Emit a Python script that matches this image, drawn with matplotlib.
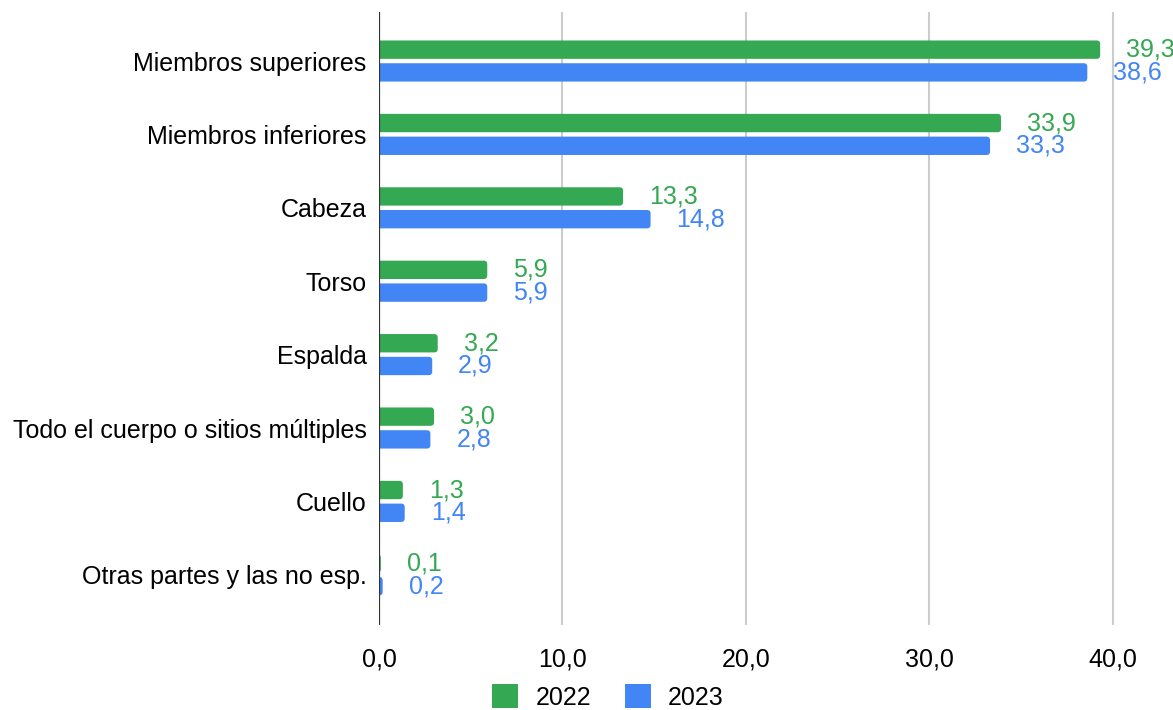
import matplotlib
matplotlib.use("Agg")
import matplotlib.pyplot as plt
from matplotlib.patches import FancyBboxPatch, Patch
import numpy as np

# Datos (%)
categorias = ["Miembros superiores", "Miembros inferiores", "Cabeza", "Torso",
              "Espalda", "Todo el cuerpo o sitios múltiples", "Cuello",
              "Otras partes y las no esp."]
valores_2022 = [39.3, 33.9, 13.3, 5.9, 3.2, 3.0, 1.3, 0.1]
valores_2023 = [38.6, 33.3, 14.8, 5.9, 2.9, 2.8, 1.4, 0.2]
xticks = [0, 10, 20, 30, 40]

VERDE = "#34A853"
AZUL = "#4285F4"
GRIS = "#CCCCCC"
EJE = "#333333"
FS = 18

plt.rcParams["font.family"] = ["Liberation Sans", "DejaVu Sans"]

fig = plt.figure(figsize=(11.73, 7.10), dpi=100)
ax = fig.add_axes([379 / 1173, 85 / 710, 794 / 1173, 613 / 710])

y = np.arange(len(categorias))
alto = 0.25
desp = 0.155

XMAX = 43.27
ax.set_xlim(0, XMAX)
ax.set_ylim(7.684, -0.668)

# escala px -> datos para redondear extremos
ux = XMAX / 794
uy = (7.684 + 0.668) / 613
radio = 3.5 * ux


def barras(valores, offset, color):
    bars = ax.barh(y + offset, valores, height=alto, color=color, zorder=3)
    for b in bars:
        b.set_visible(False)
        w = b.get_width()
        p = FancyBboxPatch((b.get_x() - 0.3, b.get_y()), w + 0.3, b.get_height(),
                           boxstyle=f"round,pad=0,rounding_size={min(radio, (w + 0.3) / 2)}",
                           mutation_aspect=uy / ux, facecolor=color,
                           edgecolor="none", zorder=3)
        ax.add_patch(p)
    for yy, v in zip(y + offset, valores):
        ax.text(v + 26 * ux, yy, f"{v:.1f}".replace(".", ","), color=color,
                fontsize=FS, va="center", ha="left", clip_on=False)


barras(valores_2022, -desp, VERDE)
barras(valores_2023, desp, AZUL)

ax.set_yticks(y)
ax.set_yticklabels(categorias, fontsize=FS)
ax.set_xticks(xticks)
ax.set_xticklabels([f"{t:.1f}".replace(".", ",") for t in xticks], fontsize=FS)
ax.tick_params(length=0)
ax.tick_params(axis="y", pad=9)
ax.tick_params(axis="x", pad=16)

for t in xticks[1:]:
    ax.axvline(t, color=GRIS, linewidth=1.5, zorder=1)
ax.axvline(0, color=EJE, linewidth=1.6, zorder=4)

for s in ax.spines.values():
    s.set_visible(False)

handles = [Patch(facecolor=VERDE, label="2022"), Patch(facecolor=AZUL, label="2023")]
fig.legend(handles=handles, loc="center", bbox_to_anchor=(608 / 1173, 13 / 710),
           ncol=2, frameon=False, fontsize=FS, handlelength=1.05, handleheight=1.05,
           columnspacing=1.36, handletextpad=0.68, borderpad=0)

plt.savefig("out.png", dpi=100, facecolor="white")
plt.close()
